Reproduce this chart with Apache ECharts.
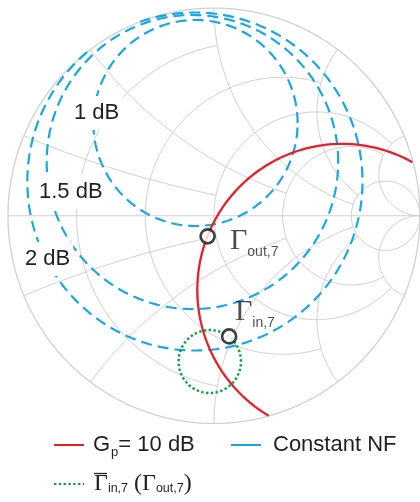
<!DOCTYPE html>
<html>
<head>
<meta charset="utf-8">
<script src="https://cdn.jsdelivr.net/npm/echarts@6/dist/echarts.min.js"></script>
<style>
  html, body { margin: 0; padding: 0; background: #fff; }
  #chart { width: 420px; height: 502px; }
</style>
</head>
<body>
<div id="chart"></div>
<script>
// smith chart grid: circle values and the value of the crossing arc where each one stops
const rValues = [0.2, 0.5, 1, 2, 5];
const rStopAtX = [1, 2, 5, 5, Infinity];
const xValues = [0.2, 0.5, 1, 2, 5];
const xStopAtR = [1, 2, 5, 5, Infinity];

// constant NF circles (reflection plane, unit = |Γ| = 1)
const nfNames = ['1 dB', '1.5 dB', '2 dB'];
const nfCenters = [[-0.090, 0.4465], [-0.1047, 0.2587], [-0.0927, 0.1649]];
const nfRadii = [0.4958, 0.7076, 0.8135];

// Gp = 10 dB circle
const gainCenter = [0.622, -0.357];
const gainRadius = 0.703;

// mapped circle of Γout,7
const stabCenter = [-0.0205, -0.7016];
const stabRadius = 0.1516;

// operating points
const gammaOut = [-0.031, -0.0989];
const gammaIn = [0.0734, -0.581];

const ink = '#231f20';
const gridColor = '#d0d0d0';

function zToGamma(r, x) {
  const d = (r + 1) * (r + 1) + x * x;
  return [(r * r - 1 + x * x) / d, 2 * x / d];
}

function arcPoints(cx, cy, rad, a0, a1, n) {
  const pts = [];
  for (let i = 0; i <= n; i++) {
    const a = a0 + (a1 - a0) * i / n;
    pts.push([cx + rad * Math.cos(a), cy + rad * Math.sin(a)]);
  }
  return pts;
}

function rCircle(r, xMax) {
  const c = r / (1 + r), rad = 1 / (1 + r);
  let a = 0;
  if (isFinite(xMax)) {
    const g = zToGamma(r, xMax);
    a = Math.atan2(g[1], g[0] - c);
  }
  return arcPoints(c, 0, rad, a, 2 * Math.PI - a, 240);
}

// angle around the arc centre, kept on the left half (inside the chart)
function leftAngle(p, cy) {
  let a = Math.atan2(p[1] - cy, p[0] - 1);
  if (a < 0) a += 2 * Math.PI;
  return a;
}

function xArc(x, rMax) {
  const cy = 1 / x, rad = 1 / Math.abs(x);
  const a0 = leftAngle(zToGamma(0, x), cy);
  let a1 = x > 0 ? 1.5 * Math.PI : 0.5 * Math.PI;
  if (isFinite(rMax)) a1 = leftAngle(zToGamma(rMax, x), cy);
  return arcPoints(1, cy, rad, a0, a1, 160);
}

// circle split into the pieces that lie inside |Γ| <= 1
function insideArcs(center, rad) {
  const pts = arcPoints(center[0], center[1], rad, 0, 2 * Math.PI, 720);
  const inside = p => p[0] * p[0] + p[1] * p[1] <= 1.0005;
  const k = pts.findIndex(p => !inside(p));
  if (k < 0) return [pts];
  const ring = pts.slice(k).concat(pts.slice(1, k + 1));
  const parts = [];
  let cur = [];
  ring.forEach(p => {
    if (inside(p)) cur.push(p);
    else if (cur.length) { parts.push(cur); cur = []; }
  });
  if (cur.length) parts.push(cur);
  return parts;
}

const series = [];
function addLine(name, data, lineStyle, z) {
  series.push({
    name, type: 'line', data, symbol: 'none', smooth: false,
    lineStyle, itemStyle: { color: lineStyle.color }, z, silent: true, clip: true
  });
}

// grid
const gridLine = { color: gridColor, width: 1 };
addLine('grid', arcPoints(0, 0, 1, 0, 2 * Math.PI, 360), { color: gridColor, width: 1.3 }, 1);
addLine('grid', [[-1, 0], [1, 0]], gridLine, 1);
rValues.forEach((r, i) => addLine('grid', rCircle(r, rStopAtX[i]), gridLine, 1));
xValues.forEach((x, i) => {
  addLine('grid', xArc(x, xStopAtR[i]), gridLine, 1);
  addLine('grid', xArc(-x, xStopAtR[i]), gridLine, 1);
});

// noise circles
nfCenters.forEach((c, i) => {
  insideArcs(c, nfRadii[i]).forEach(seg =>
    addLine('Constant NF', seg, { color: '#1aa7e1', width: 2.2, type: [11, 6] }, 3));
});

// gain circle
insideArcs(gainCenter, gainRadius).forEach(seg =>
  addLine('Gp = 10 dB', seg, { color: '#e4202b', width: 2.3 }, 4));

// green dotted circle
insideArcs(stabCenter, stabRadius).forEach(seg =>
  addLine('stab', seg, { color: '#12a14b', width: 2.5, type: [2.4, 2.4] }, 4));

const subRich = {
  g: { fontFamily: 'Liberation Serif', fontSize: 30, lineHeight: 30, color: ink },
  s: { fontFamily: 'Liberation Sans', fontSize: 14, lineHeight: 14, color: ink,
       verticalAlign: 'top', padding: [19, 0, 0, 0] }
};

series.push({
  name: 'points', type: 'scatter', symbol: 'circle', symbolSize: 14, z: 10,
  itemStyle: { color: '#fff', borderColor: '#111', borderWidth: 2.7 },
  label: { show: true, position: 'right', distance: 0, rich: subRich },
  data: [
    { value: gammaOut, label: { formatter: '{g|Γ}{s|out,7}', offset: [14, 5] } },
    { value: gammaIn, label: { formatter: '{g|Γ}{s|in,7}', offset: [-2.5, -24] } }
  ]
});

const labelText = { font: '22px "Liberation Sans"', fill: ink, backgroundColor: '#fff',
  padding: [6, 3], verticalAlign: 'middle', align: 'left' };

const legendBase = {
  padding: 0, itemWidth: 30, itemHeight: 14, selectedMode: false,
  itemStyle: { opacity: 0 }
};

const option = {
  animation: false,
  backgroundColor: '#fff',
  grid: { left: 8, top: 8, width: 415.5, height: 415.5 },
  xAxis: { type: 'value', min: -1, max: 1, show: false },
  yAxis: { type: 'value', min: -1, max: 1, show: false },
  legend: [
    Object.assign({}, legendBase, {
      left: 53, top: 434,
      data: [{ name: 'Gp = 10 dB' }],
      formatter: () => '{a0|G}{p|p}{a|= 10 dB}',
      textStyle: { rich: {
        a0: { fontFamily: 'Liberation Sans', fontSize: 22, lineHeight: 22, color: ink, padding: [0, 0, 0, 4] },
        a: { fontFamily: 'Liberation Sans', fontSize: 22, lineHeight: 22, color: ink },
        p: { fontFamily: 'Liberation Sans', fontSize: 13, lineHeight: 13, color: ink,
             verticalAlign: 'top', padding: [12, 0, 0, 1] }
      } }
    }),
    Object.assign({}, legendBase, {
      left: 230, top: 434,
      data: [{ name: 'Constant NF', lineStyle: { type: 'solid' } }],
      formatter: () => '{a0|Constant NF}',
      textStyle: { rich: {
        a0: { fontFamily: 'Liberation Sans', fontSize: 22, lineHeight: 22, color: ink, padding: [0, 0, 0, 7] }
      } }
    }),
    Object.assign({}, legendBase, {
      left: 53, top: 472,
      data: [{ name: 'stab' }],
      formatter: () => '{g0|Γ}{s|in,7}{g| (Γ}{s|out,7}{g|)}',
      textStyle: { rich: {
        g0: { fontFamily: 'Liberation Serif', fontSize: 24, lineHeight: 24, color: ink, padding: [0, 0, 0, 5] },
        g: { fontFamily: 'Liberation Serif', fontSize: 24, lineHeight: 24, color: ink },
        s: { fontFamily: 'Liberation Sans', fontSize: 12.5, lineHeight: 12.5, color: ink,
             verticalAlign: 'top', padding: [10.5, 0, 0, 0] }
      } }
    })
  ],
  graphic: [
    { type: 'text', x: 71, y: 113, z: 20, style: Object.assign({ text: nfNames[0] }, labelText) },
    { type: 'text', x: 36, y: 192, z: 20, style: Object.assign({ text: nfNames[1] }, labelText) },
    { type: 'text', x: 22, y: 259, z: 20, style: Object.assign({ text: nfNames[2] }, labelText) },
    // bar over the legend's Γ
    { type: 'line', z: 20, shape: { x1: 94, y1: 473.5, x2: 107, y2: 473.5 },
      style: { stroke: ink, lineWidth: 1.3 } }
  ],
  series
};

const chart = echarts.init(document.getElementById('chart'), null, { renderer: 'canvas' });
chart.setOption(option);
</script>
</body>
</html>
